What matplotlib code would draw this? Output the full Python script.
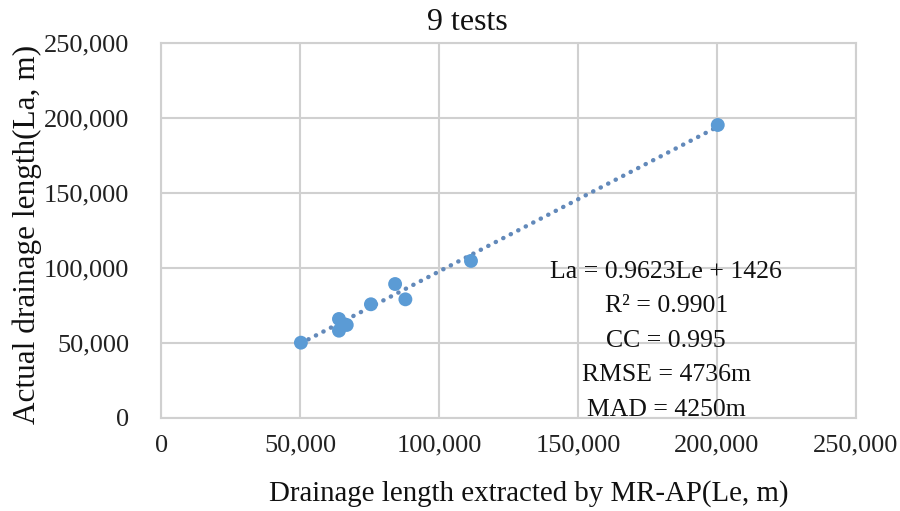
import numpy as np
import matplotlib.pyplot as plt
from matplotlib.ticker import FuncFormatter

# Extracted (Le) vs actual (La) drainage lengths, metres
le = [50300, 64000, 64000, 66800, 75500, 84200, 87900, 111500, 200300]
la = [50200, 66000, 58200, 62000, 75800, 89300, 79100, 104700, 195300]

# Fitted trendline and statistics
slope = 0.9623
intercept = 1426
stats = ['La = 0.9623Le + 1426', 'R² = 0.9901', 'CC = 0.995',
         'RMSE = 4736m', 'MAD = 4250m']

ticks = [0, 50000, 100000, 150000, 200000, 250000]

plt.rcParams['font.family'] = ['Liberation Serif', 'DejaVu Serif']

fig = plt.figure(figsize=(9, 5.11), dpi=100)
ax = fig.add_axes([0.179, 0.182, 0.772, 0.734])

grid_c = '#D0D0D0'
blue = '#5B9BD5'
ink = '#111111'

ax.set_xlim(0, 250000)
ax.set_ylim(0, 250000)
ax.set_xticks(ticks)
ax.set_yticks(ticks)
fmt = FuncFormatter(lambda v, p: f'{int(v):,}')
ax.xaxis.set_major_formatter(fmt)
ax.yaxis.set_major_formatter(fmt)
ax.tick_params(length=0, labelsize=19, colors='#222222')
ax.tick_params(axis='x', pad=12)
ax.tick_params(axis='y', pad=23)
ax.grid(True, color=grid_c, linewidth=1.5)
ax.set_axisbelow(True)
for s in ax.spines.values():
    s.set_color(grid_c)
    s.set_linewidth(1.5)

# dotted trendline across the data range
xs = np.array([min(le), max(le)])
ax.plot(xs, slope * xs + intercept, linestyle=(0, (0.05, 1.85)), linewidth=3.2,
        color='#6289BA', dash_capstyle='round', zorder=2)
ax.scatter(le, la, s=100, color=blue, edgecolors='none', zorder=3)

ys = [0.389, 0.298, 0.205, 0.114, 0.021]
for txt, y in zip(stats, ys):
    ax.text(0.727, y, txt, transform=ax.transAxes, ha='center', va='center',
            fontsize=18.5, color=ink)

fig.text(467 / 900, 1 - 22 / 511, '9 tests', ha='center', va='center',
         fontsize=23, color=ink)
fig.text(529 / 900, 1 - 494 / 511, 'Drainage length extracted by MR-AP(Le, m)',
         ha='center', va='center', fontsize=20.8, color=ink)
fig.text(27 / 900, 1 - 234 / 511, 'Actual drainage length(La, m)',
         ha='center', va='center', rotation=90, fontsize=22.5, color=ink)

fig.savefig('out.png', dpi=100)
